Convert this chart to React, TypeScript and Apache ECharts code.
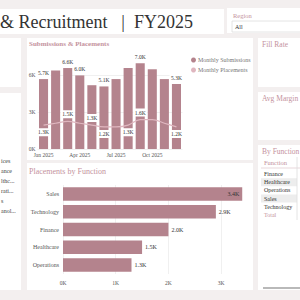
import React, { useEffect, useRef } from "react";
import * as echarts from "echarts";

// Monthly pipeline (thousands)
const months = [
  "Jan 2025", "Feb 2025", "Mar 2025", "Apr 2025", "May 2025", "Jun 2025",
  "Jul 2025", "Aug 2025", "Sep 2025", "Oct 2025", "Nov 2025", "Dec 2025",
];
const monthlySubmissions = [5.7, 6.4, 6.6, 6.0, 5.2, 5.1, 5.7, 6.6, 7.0, 6.5, 5.7, 5.3];
const monthlyPlacements = [1.3, 1.4, 1.5, 1.4, 1.3, 1.2, 1.2, 1.3, 1.6, 1.6, 1.4, 1.2];
// which points carry a data label
const submissionLabelIdx = [0, 2, 3, 5, 8, 11];
const placementLabelPos: Record<number, "top" | "bottom"> = {
  0: "bottom", 2: "top", 4: "top", 5: "bottom", 7: "bottom", 8: "top", 11: "bottom",
};

// Placements by function (thousands)
const functions = ["Sales", "Technology", "Finance", "Healthcare", "Operations"];
const placementsByFunction = [3.4, 2.9, 2.0, 1.5, 1.3];

// Table + slicer entries
const tableRows = ["Finance", "Healthcare", "Operations", "Sales", "Technology"];
const slicerItems = ["ices", "ance", "lthc...", "rati...", "s", "anol..."];
const regionValue = "All";

const SERIF = "'Liberation Serif', serif";
const ROSE = "#b4838d";
const PINK_LINE = "#dfb6bf";
const TITLE = "#c4929d";
const PAGE_BG = "#f3efef";

const kFmt = (v: number) => `${v.toFixed(1)}K`;

function buildOption(): echarts.EChartsOption {
  const panels = [
    [0, 9, 224, 25],
    [227, 8, 73, 25],
    [0, 38, 21, 49],
    [0, 93, 21, 197],
    [27, 38, 226, 122],
    [27, 163, 226, 127],
    [258, 38, 42, 49],
    [258, 92, 42, 48],
    [258, 145, 42, 145],
  ];
  const graphic: any[] = panels.map(([x, y, w, h]) => ({
    type: "rect",
    shape: { x, y, width: w, height: h },
    style: { fill: "#ffffff" },
    z: -10,
  }));

  const txt = (text: string, x: number, y: number, size: number, fill: string, extra: any = {}) => ({
    type: "text",
    x,
    y,
    style: { text, fontSize: size, fill, fontFamily: SERIF, verticalAlign: "middle", ...extra },
  });

  graphic.push(
    txt("& Recruitment", 0, 22, 18, "#333333"),
    txt("|", 123, 22, 18, "#333333", { align: "center" }),
    txt("FY2025", 134, 22, 18, "#333333"),
    txt("Region", 233, 15, 6.5, TITLE),
    { type: "rect", shape: { x: 232, y: 21, width: 72, height: 11 }, style: { fill: "#fff", stroke: "#dddddd", lineWidth: 0.8 } },
    txt(regionValue, 235, 26.5, 6, "#333333"),
    txt("Submissions & Placements", 29, 44, 7, TITLE, { fontWeight: "bold" }),
    txt("Placements by Function", 29, 171, 8, TITLE),
    txt("Fill Rate", 262, 44, 7.5, TITLE),
    txt("Avg Margin", 262, 98, 7.5, TITLE),
    txt("By Function", 262, 151, 7.5, TITLE),
    txt("Function", 264, 162, 6.5, TITLE),
    { type: "line", shape: { x1: 261, y1: 168, x2: 300, y2: 168 }, style: { stroke: "#e2cdd2", lineWidth: 0.8 } },
    { type: "line", shape: { x1: 297, y1: 157, x2: 297, y2: 220 }, style: { stroke: "#dddddd", lineWidth: 0.8 } },
    { type: "rect", shape: { x: 263, y: 287, width: 37, height: 2 }, style: { fill: "#b9b9b9" } },
  );

  tableRows.forEach((name, i) => {
    const y = 174 + i * 8.2;
    if (i === 1 || i === 3) {
      graphic.push({ type: "rect", shape: { x: 261, y: y - 4, width: 36, height: 8 }, style: { fill: "#ededed" }, z: -5 });
    }
    graphic.push(txt(name, 264, y, 6, "#333333"));
  });
  graphic.push(txt("Total", 264, 174 + 5 * 8.2, 6, TITLE));

  slicerItems.forEach((name, i) => {
    graphic.push(txt(name, 1, 161 + i * 10, 6, "#444444"));
  });

  const labelBox = {
    fontSize: 5.5,
    color: "#333",
    fontFamily: SERIF,
    backgroundColor: "#ffffff",
    padding: [1, 1.5],
    borderRadius: 1,
    formatter: (p: any) => kFmt(p.value),
  };

  return {
    animation: false,
    backgroundColor: PAGE_BG,
    textStyle: { fontFamily: SERIF },
    graphic,
    legend: {
      data: ["Monthly Submissions", "Monthly Placements"],
      orient: "vertical",
      left: 186,
      top: 52,
      icon: "circle",
      itemWidth: 5,
      itemHeight: 5,
      itemGap: 4,
      textStyle: { fontSize: 6, color: "#777", fontFamily: SERIF, padding: [0, 0, 0, -3] },
    },
    grid: [
      { left: 37.5, top: 57, width: 145, height: 92 },
      { left: 63, top: 185, width: 184.5, height: 89 },
    ],
    xAxis: [
      {
        gridIndex: 0,
        type: "category",
        data: months,
        axisLine: { show: false },
        axisTick: { show: false },
        axisLabel: { interval: 2, fontSize: 5.5, color: "#555", margin: 3, fontFamily: SERIF },
      },
      {
        gridIndex: 1,
        type: "value",
        min: 0,
        max: 3.5,
        interval: 1,
        axisLabel: {
          fontSize: 5.5, color: "#555", margin: 6, fontFamily: SERIF, showMaxLabel: false,
          formatter: (v: number) => `${v}K`,
        },
        splitLine: { lineStyle: { color: ["#ececec", "#ececec", "#ececec", "#ececec", "rgba(0,0,0,0)"], width: 0.8 } },
      },
    ],
    yAxis: [
      {
        gridIndex: 0,
        type: "value",
        min: 0,
        max: 7.5,
        interval: 3,
        axisLabel: {
          fontSize: 5.5, color: "#555", margin: 2, fontFamily: SERIF, showMaxLabel: false,
          formatter: (v: number) => `${v}K`,
        },
        splitLine: { lineStyle: { color: ["#ececec", "#ececec", "#ececec", "rgba(0,0,0,0)"], width: 0.8 } },
      },
      { gridIndex: 0, type: "value", min: 0, max: 5, show: false, splitLine: { show: false } },
      {
        gridIndex: 1,
        type: "category",
        data: functions,
        inverse: true,
        axisLine: { show: false },
        axisTick: { show: false },
        axisLabel: { fontSize: 6, color: "#555", margin: 4, fontFamily: SERIF },
      },
    ],
    series: [
      {
        name: "Monthly Submissions",
        type: "bar",
        xAxisIndex: 0,
        yAxisIndex: 0,
        barCategoryGap: "25%",
        itemStyle: { color: ROSE },
        data: monthlySubmissions.map((v, i) =>
          submissionLabelIdx.includes(i)
            ? { value: v, label: { show: true, position: "top", distance: 2, ...labelBox } }
            : v
        ),
      },
      {
        name: "Monthly Placements",
        type: "line",
        xAxisIndex: 0,
        yAxisIndex: 1,
        smooth: 0.4,
        symbol: "circle",
        symbolSize: 0.1,
        lineStyle: { color: PINK_LINE, width: 1.2 },
        itemStyle: { color: PINK_LINE },
        z: 5,
        data: monthlyPlacements.map((v, i) =>
          placementLabelPos[i]
            ? { value: v, label: { show: true, position: placementLabelPos[i], distance: 3, ...labelBox } }
            : v
        ),
      },
      {
        name: "Placements",
        type: "bar",
        xAxisIndex: 1,
        yAxisIndex: 2,
        barCategoryGap: "24%",
        itemStyle: { color: ROSE },
        data: placementsByFunction.map((v, i) => ({
          value: v,
          label: {
            show: true,
            position: i === 0 ? "insideRight" : "right",
            distance: 3,
            fontSize: 6,
            color: "#333",
            fontFamily: SERIF,
            formatter: (p: any) => kFmt(p.value),
          },
        })),
      },
    ],
  } as echarts.EChartsOption;
}

export default function App() {
  const ref = useRef<HTMLDivElement>(null);
  useEffect(() => {
    if (!ref.current) return;
    const chart = echarts.init(ref.current, null, { renderer: "svg" });
    chart.setOption(buildOption());
    return () => chart.dispose();
  }, []);
  return (
    <div
      ref={ref}
      style={{ position: "fixed", left: 0, top: 0, width: 300, height: 300 }}
    />
  );
}
